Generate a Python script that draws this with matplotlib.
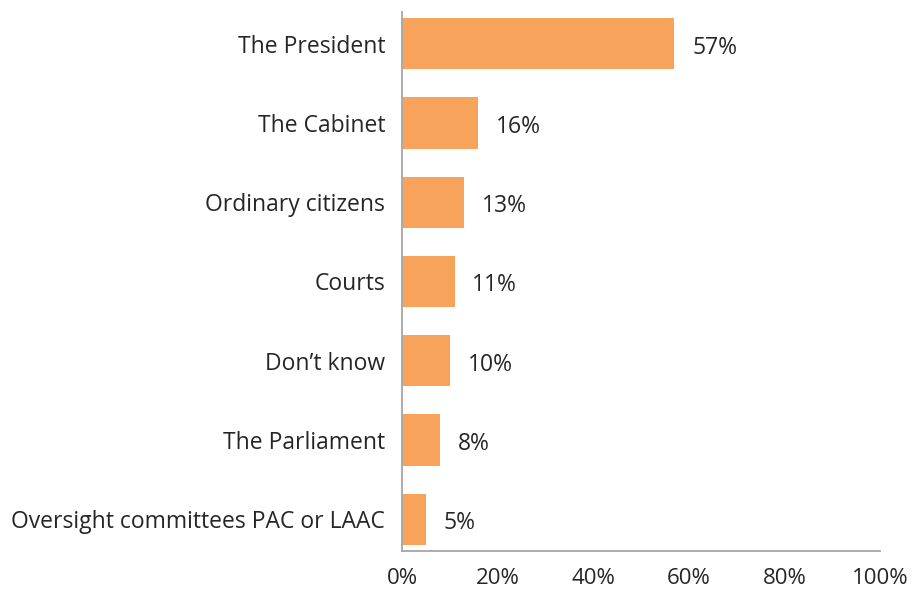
import matplotlib.pyplot as plt

categories = ["The President", "The Cabinet", "Ordinary citizens", "Courts",
              "Don\u2019t know", "The Parliament", "Oversight committees PAC or LAAC"]
values = [57, 16, 13, 11, 10, 8, 5]
xticks = [0, 20, 40, 60, 80, 100]

plt.rcParams['font.family'] = ['Open Sans', 'DejaVu Sans']

fig = plt.figure(figsize=(9.13, 5.93), dpi=100)
ax = fig.add_axes([0.4403, 0.0708, 0.5236, 0.909])

ypos = list(range(len(categories)))
ax.barh(ypos, values, height=0.645, color="#F7A35C")
for y, v in zip(ypos, values):
    ax.text(v + 3.7, y + 0.05, f"{v}%", va="center", ha="left", fontsize=16.5, color="#262626")

ax.set_xlim(0, 100)
ax.set_ylim(6.4, -0.4)
ax.set_yticks(ypos)
ax.set_yticklabels(categories, fontsize=16.5, color="#262626")
ax.set_xticks(xticks)
ax.set_xticklabels([f"{t}%" for t in xticks], fontsize=16, color="#262626")
ax.tick_params(axis="both", length=0)
ax.tick_params(axis="x", pad=12)
ax.tick_params(axis="y", pad=12)

for s in ["top", "right"]:
    ax.spines[s].set_visible(False)
for s in ["left", "bottom"]:
    ax.spines[s].set_color("#A6A6A6")
    ax.spines[s].set_linewidth(1.3)

fig.savefig("out.png", dpi=100)
